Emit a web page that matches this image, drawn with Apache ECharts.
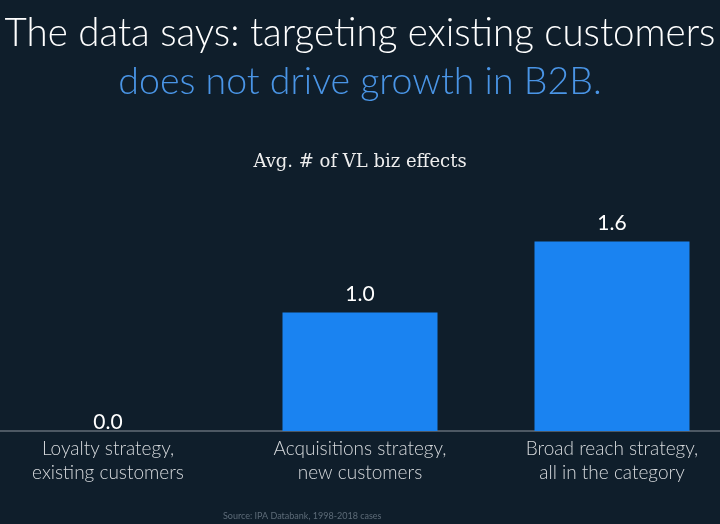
<!DOCTYPE html>
<html>
<head>
<meta charset="utf-8">
<script src="https://cdn.jsdelivr.net/npm/echarts@6/dist/echarts.min.js"></script>
<style>
  html, body { margin: 0; padding: 0; background: #0f1e2b; }
  #chart { width: 720px; height: 524px; }
</style>
</head>
<body>
<div id="chart"></div>
<script>
// categories (two-line labels) and average number of very-large business effects
var strategies = ['Loyalty strategy,\nexisting customers', 'Acquisitions strategy,\nnew customers', 'Broad reach strategy,\nall in the category'];
var bizEffects = [0.0, 1.0, 1.6];

var chart = echarts.init(document.getElementById('chart'));
var option = {
    backgroundColor: '#0f1e2b',
    animation: false,
    title: [{
        text: 'The data says: targeting existing customers',
        left: 'center',
        top: 9,
        textStyle: { color: '#ffffff', fontFamily: 'Lato', fontWeight: 300, fontSize: 38.5 }
    }, {
        text: 'does not drive growth in B2B.',
        left: 'center',
        top: 58,
        textStyle: { color: '#4a95e6', fontFamily: 'Lato', fontWeight: 300, fontSize: 37.5 }
    }, {
        text: 'Avg. # of VL biz effects',
        left: 'center',
        top: 148,
        textStyle: { color: '#eeeeee', fontFamily: 'DejaVu Serif', fontWeight: 'normal', fontSize: 18 }
    }, {
        text: 'Source: IPA Databank, 1998-2018 cases',
        left: 218,
        top: 507,
        textStyle: { color: '#5d6b78', fontFamily: 'Lato', fontWeight: 'normal', fontSize: 9 }
    }],
    grid: { left: -18, right: -18, top: 194, bottom: 93, outerBoundsMode: 'none' },
    xAxis: {
        type: 'category',
        data: strategies,
        axisLine: { lineStyle: { color: '#4d5863', width: 2 } },
        axisTick: { show: false },
        axisLabel: {
            interval: 0,
            margin: 6,
            color: '#d6d9dc',
            fontFamily: 'Lato',
            fontWeight: 300,
            fontSize: 19,
            lineHeight: 24
        }
    },
    yAxis: {
        type: 'value',
        min: 0,
        max: 2,
        show: false
    },
    series: [{
        type: 'bar',
        // the zero label sits just above the axis line
        data: bizEffects.map(function (v) {
            return v === 0 ? { value: v, label: { distance: -2 } } : v;
        }),
        barWidth: 155,
        itemStyle: { color: '#1a83f1' },
        label: {
            show: true,
            position: 'top',
            distance: 8,
            color: '#ffffff',
            fontFamily: 'Lato',
            fontSize: 21,
            formatter: function (p) { return p.value.toFixed(1); }
        }
    }]
};
chart.setOption(option);
</script>
</body>
</html>
